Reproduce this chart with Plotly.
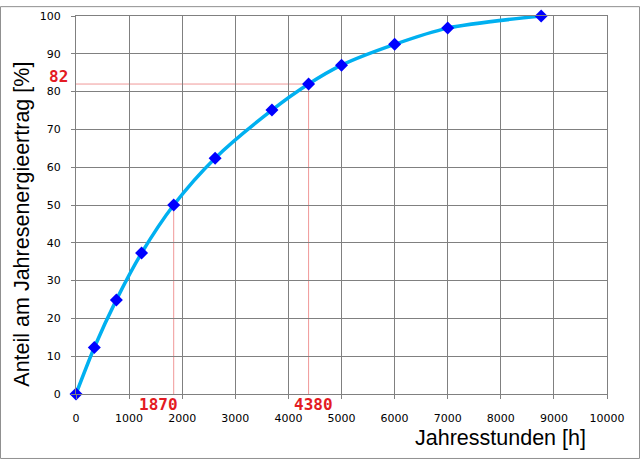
import plotly.graph_objects as go

# Data
hours = [0, 345, 760, 1235, 1840, 2620, 3690, 4380, 5000, 6000, 7000, 8760]
share = [0, 12.3, 24.9, 37.3, 50, 62.4, 75.1, 82, 87, 92.5, 96.8, 100]

x_ticks = [0, 1000, 2000, 3000, 4000, 5000, 6000, 7000, 8000, 9000, 10000]
y_ticks = [0, 10, 20, 30, 40, 50, 60, 70, 80, 90, 100]

mark_hours = [1840, 4380]
mark_share = [50, 82]
mark_labels = ["1870", "4380"]
share_label = "82"

L, R, T, B = 76, 33, 10, 66
W, H = 640, 460
pw, ph = W - L - R, H - T - B

def px(xp):
    return (xp - L) / pw

def py(yp):
    return (H - B - yp) / ph

fig = go.Figure()
fig.add_trace(go.Scatter(
    x=hours, y=share, mode="lines+markers",
    line=dict(color="#00B0F0", width=3.5, shape="spline", smoothing=0.8),
    marker=dict(symbol="diamond", size=10, color="#0000FF"),
    showlegend=False, cliponaxis=False,
))

red_line = "#F09898"
shapes = []
for hx, sy in zip(mark_hours, mark_share):
    shapes.append(dict(type="line", xref="x", yref="y", x0=hx, x1=hx, y0=0, y1=sy,
                       line=dict(color=red_line, width=1), layer="below"))
shapes.append(dict(type="line", xref="x", yref="y", x0=0, x1=mark_hours[1],
                   y0=mark_share[1], y1=mark_share[1],
                   line=dict(color=red_line, width=1), layer="below"))
# outer border
shapes.append(dict(type="rect", xref="paper", yref="paper",
                   x0=px(0.5), x1=px(W - 0.5), y0=py(H - 0.5), y1=py(0.5),
                   line=dict(color="#909090", width=1)))

red_font = dict(family="DejaVu Sans Mono", size=16, color="#E31B23")
annotations = [
    dict(x=mark_hours[0], y=0, xref="x", yref="y", text="<b>" + mark_labels[0] + "</b>",
         showarrow=False, xshift=-15, yshift=-10, font=red_font),
    dict(x=mark_hours[1], y=0, xref="x", yref="y", text="<b>" + mark_labels[1] + "</b>",
         showarrow=False, xshift=5, yshift=-10, font=red_font),
    dict(x=0, y=mark_share[1], xref="x", yref="y", text="<b>" + share_label + "</b>",
         showarrow=False, xshift=-18, yshift=8, font=red_font),
    dict(x=px(22), y=py(222), xref="paper", yref="paper", xanchor="center", yanchor="middle",
         text="Anteil am Jahresenergieertrag [%]", textangle=-90, showarrow=False,
         font=dict(family="Liberation Sans", size=21.5, color="black")),
    dict(x=px(500), y=py(439), xref="paper", yref="paper", xanchor="center", yanchor="middle",
         text="Jahresstunden [h]", showarrow=False,
         font=dict(family="Liberation Sans", size=21.5, color="black")),
]

axis_common = dict(showgrid=True, gridcolor="#808080", gridwidth=1, zeroline=False,
                   showline=True, linecolor="#808080", linewidth=1, mirror=True,
                   ticks="outside", ticklen=4, tickcolor="#808080",
                   tickfont=dict(family="DejaVu Sans", size=11, color="black"))

fig.update_layout(
    width=W, height=H,
    margin=dict(l=L, r=R, t=T, b=B),
    paper_bgcolor="white", plot_bgcolor="white",
    xaxis=dict(range=[0, 10000], tickvals=x_ticks, ticktext=[str(v) for v in x_ticks],
               ticklabelstandoff=10, **axis_common),
    yaxis=dict(range=[0, 100], tickvals=y_ticks, ticktext=[str(v) for v in y_ticks],
               ticklabelstandoff=8, **axis_common),
    shapes=shapes, annotations=annotations,
)

fig.write_html("out.html", config={"displayModeBar": False},
               post_script="document.body.style.margin='0';")
